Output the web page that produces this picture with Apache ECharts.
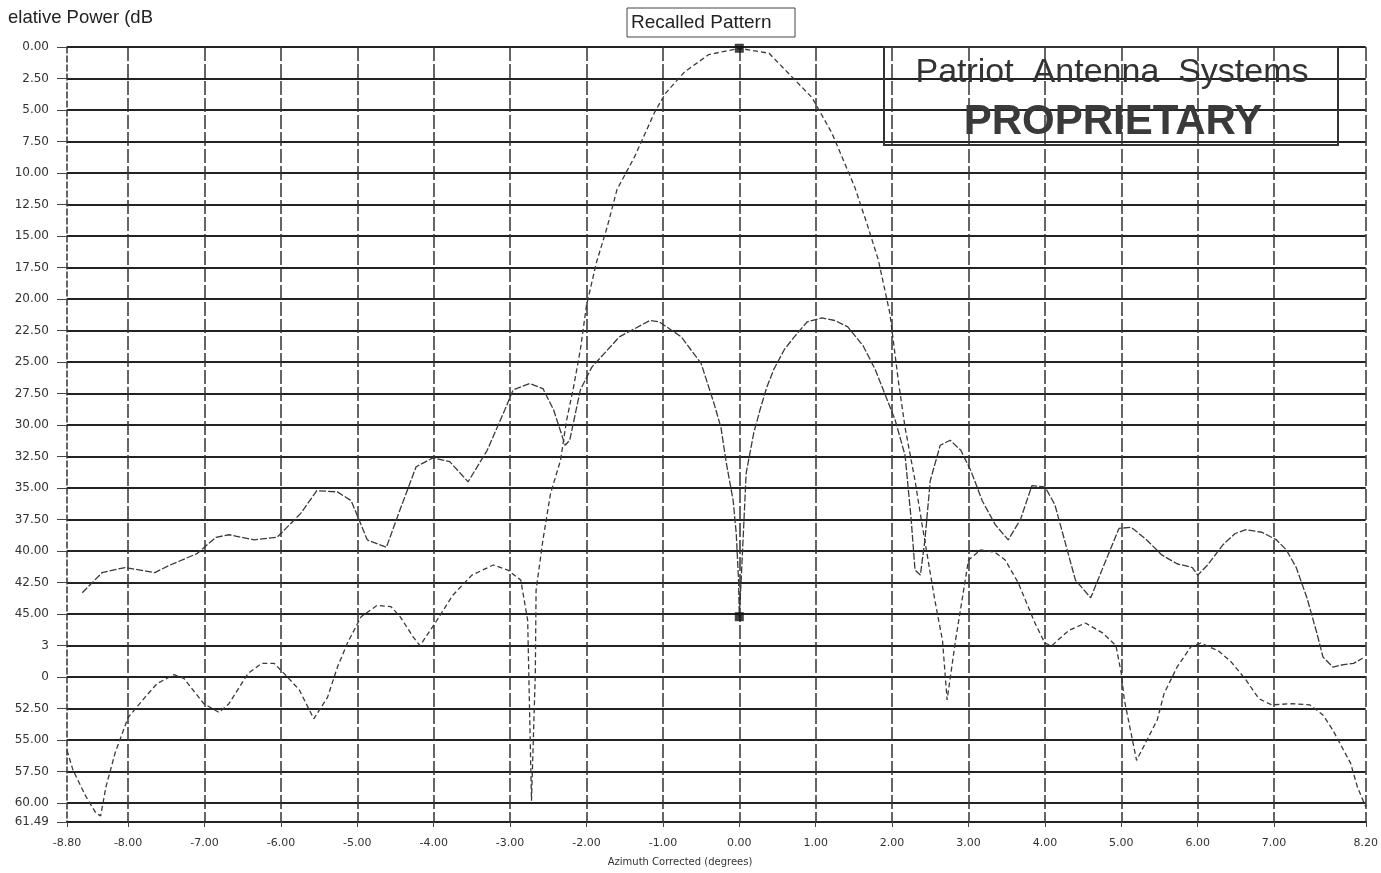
<!DOCTYPE html>
<html><head><meta charset="utf-8">
<script src="https://cdn.jsdelivr.net/npm/echarts@6/dist/echarts.min.js"></script>
<style>html,body{margin:0;padding:0;background:#fff}#c{width:1381px;height:873px}</style>
</head><body><div id="c"></div>
<script>
const xTickValues = [-8.8,-8,-7,-6,-5,-4,-3,-2,-1,0,1,2,3,4,5,6,7,8.2];
const xTickLabels = ['-8.80','-8.00','-7.00','-6.00','-5.00','-4.00','-3.00','-2.00','-1.00','0.00','1.00','2.00','3.00','4.00','5.00','6.00','7.00','8.20'];
const xGridValues = [-8,-7,-6,-5,-4,-3,-2,-1,0,1,2,3,4,5,6,7,8.2];
const yTickValues = [0,2.5,5,7.5,10,12.5,15,17.5,20,22.5,25,27.5,30,32.5,35,37.5,40,42.5,45,47.5,50,52.5,55,57.5,60,61.49];
const yTickLabels = ['0.00','2.50','5.00','7.50','10.00','12.50','15.00','17.50','20.00','22.50','25.00','27.50','30.00','32.50','35.00','37.50','40.00','42.50','45.00','3','0','52.50','55.00','57.50','60.00','61.49'];

const sumPattern = [[-8.80,55.8],[-8.72,57.4],[-8.55,59.5],[-8.42,60.8],[-8.36,61.0],[-8.29,58.7],[-8.17,56.0],[-8.00,53.2],[-7.78,51.6],[-7.62,50.5],[-7.40,49.8],[-7.27,50.1],[-7.01,52.1],[-6.81,52.8],[-6.68,52.1],[-6.43,49.7],[-6.25,48.9],[-6.09,48.9],[-5.96,49.7],[-5.76,51.0],[-5.57,53.3],[-5.39,51.6],[-5.26,49.2],[-5.13,47.3],[-4.95,45.2],[-4.74,44.3],[-4.56,44.4],[-4.44,45.2],[-4.27,46.8],[-4.18,47.5],[-3.97,45.6],[-3.75,43.5],[-3.50,41.9],[-3.22,41.1],[-3.03,41.5],[-2.86,42.3],[-2.77,45.5],[-2.72,59.8],[-2.67,49.7],[-2.66,43.1],[-2.57,39.1],[-2.47,35.4],[-2.34,32.8],[-2.26,29.6],[-2.17,27.0],[-2.08,24.0],[-2.00,20.5],[-1.87,17.1],[-1.73,14.3],[-1.60,11.3],[-1.37,8.7],[-1.11,5.2],[-0.97,3.7],[-0.72,2.0],[-0.40,0.6],[0,0.1],[0.39,0.5],[0.63,2.0],[0.95,4.0],[1.21,6.8],[1.51,11.1],[1.67,14.0],[1.82,16.9],[1.97,21.1],[2.08,26.4],[2.17,30.2],[2.30,34.4],[2.39,37.8],[2.56,43.9],[2.66,47.1],[2.72,51.8],[2.83,47.1],[3.00,40.7],[3.16,39.9],[3.35,40.1],[3.48,40.7],[3.65,42.5],[3.87,45.7],[4.00,47.3],[4.09,47.5],[4.31,46.3],[4.53,45.7],[4.76,46.5],[4.93,47.5],[5.00,49.7],[5.04,51.8],[5.20,56.6],[5.47,53.4],[5.56,51.3],[5.73,49.2],[5.91,47.6],[6.04,47.3],[6.27,47.9],[6.44,48.8],[6.63,50.2],[6.80,51.7],[6.97,52.2],[7.24,52.1],[7.47,52.2],[7.64,53.0],[7.77,54.2],[7.91,55.8],[8.00,56.8],[8.09,58.7],[8.20,60.3]];

const diffPattern = [[-8.60,43.3],[-8.34,41.7],[-8.04,41.3],[-7.65,41.7],[-7.45,41.1],[-7.10,40.2],[-6.85,38.9],[-6.68,38.7],[-6.35,39.1],[-6.05,38.9],[-5.74,37.0],[-5.53,35.2],[-5.26,35.3],[-5.08,36.0],[-4.87,39.1],[-4.62,39.7],[-4.44,36.7],[-4.23,33.3],[-4.01,32.6],[-3.79,32.9],[-3.55,34.5],[-3.30,32.0],[-3.07,28.8],[-2.96,27.2],[-2.74,26.7],[-2.57,27.1],[-2.43,28.8],[-2.28,31.6],[-2.22,31.2],[-2.08,27.2],[-1.93,25.4],[-1.57,23.0],[-1.17,21.7],[-1.05,21.8],[-0.76,23.0],[-0.50,25.1],[-0.33,28.3],[-0.24,30.2],[-0.17,33.0],[-0.08,36.0],[-0.04,38.6],[-0.01,42.3],[0,45.2],[0.03,41.6],[0.09,33.8],[0.19,30.6],[0.28,28.6],[0.36,27.0],[0.45,25.6],[0.59,24.0],[0.72,23.0],[0.89,21.8],[1.08,21.5],[1.25,21.7],[1.42,22.2],[1.62,23.7],[1.78,25.6],[1.91,27.6],[2.04,29.6],[2.17,32.4],[2.25,37.5],[2.30,41.5],[2.37,41.9],[2.43,39.1],[2.50,34.4],[2.63,31.6],[2.76,31.2],[2.90,32.0],[3.03,33.6],[3.18,36.0],[3.35,37.9],[3.52,39.1],[3.68,37.5],[3.83,34.8],[4.00,34.9],[4.13,36.3],[4.40,42.3],[4.60,43.7],[4.80,40.7],[4.97,38.2],[5.13,38.1],[5.33,39.1],[5.53,40.3],[5.73,41.0],[5.93,41.3],[6.00,41.9],[6.13,41.1],[6.33,39.5],[6.49,38.6],[6.63,38.3],[6.84,38.5],[7.03,39.1],[7.16,39.9],[7.29,41.3],[7.43,43.7],[7.56,46.5],[7.64,48.4],[7.77,49.2],[7.91,49.0],[8.04,48.9],[8.16,48.5]];

const cursorPoints = [[0,0.1],[0,45.2]];

function lookup(values, labels, v){
  const i = values.findIndex(t => Math.abs(t - v) < 1e-6);
  return i >= 0 ? labels[i] : '';
}

const chart = echarts.init(document.getElementById('c'), null, {renderer:'canvas'});
chart.setOption({
  animation:false,
  backgroundColor:'#ffffff',
  grid:{left:67, right:15, top:47, bottom:51},
  xAxis:{
    type:'value', min:-8.8, max:8.2,
    axisLine:{show:true, onZero:false, lineStyle:{color:'#222', width:2}},
    axisTick:{show:true, customValues:xTickValues, length:5, lineStyle:{color:'#444'}},
    axisLabel:{customValues:xTickValues, formatter:v=>lookup(xTickValues,xTickLabels,v), margin:16, fontSize:11, color:'#333', fontFamily:'DejaVu Sans'},
    splitLine:{show:false}
  },
  yAxis:{
    type:'value', inverse:true, min:0, max:61.49, interval:2.5,
    axisLine:{show:true, onZero:false, lineStyle:{color:'#333', width:1.5, type:[6,3]}},
    axisTick:{show:true, length:10, lineStyle:{color:'#444'}},
    axisLabel:{customValues:yTickValues, formatter:v=>lookup(yTickValues,yTickLabels,v), margin:18, fontSize:12, color:'#333', fontFamily:'DejaVu Sans'},
    splitLine:{show:true, lineStyle:{color:'#222', width:2}}
  },
  series:[
    {type:'line', name:'Sum', data:sumPattern, showSymbol:false, smooth:false,
     lineStyle:{color:'#3a3a3a', width:1.3, type:[5,3]},
     markLine:{silent:true, symbol:['none','none'], label:{show:false},
       lineStyle:{color:'#333', width:1.5, type:[14,3]},
       data:xGridValues.map(v=>({xAxis:v}))}},
    {type:'line', name:'Difference', data:diffPattern, showSymbol:false, smooth:false,
     lineStyle:{color:'#3a3a3a', width:1.3, type:[7,2]}},
    {type:'scatter', name:'Cursor', data:cursorPoints, symbol:'rect', symbolSize:9, itemStyle:{color:'#111'}, z:5}
  ],
  graphic:[
    {type:'text', left:8, top:8, style:{text:'elative Power (dB', font:'18.5px "Liberation Sans", Arial, sans-serif', fill:'#222'}},
    {type:'rect', shape:{x:627, y:8, width:168, height:29}, style:{fill:'#fff', stroke:'#444', lineWidth:1}},
    {type:'text', x:631, y:22.5, style:{text:'Recalled Pattern', font:'19px "Liberation Sans", Arial, sans-serif', fill:'#222', textVerticalAlign:'middle'}},
    {type:'rect', shape:{x:884, y:47, width:454, height:98}, style:{fill:'none', stroke:'#333', lineWidth:2}, z:10},
    {type:'text', x:1112, y:73, z:10, style:{text:'Patriot  Antenna  Systems', font:'34px "Liberation Sans", Arial, sans-serif', fill:'#333', textAlign:'center', textVerticalAlign:'middle'}},
    {type:'text', x:1113, y:122, z:10, style:{text:'PROPRIETARY', font:'bold 42px "Liberation Sans", Arial, sans-serif', fill:'#3a3a3a', textAlign:'center', textVerticalAlign:'middle'}},
    {type:'text', x:680, y:862, style:{text:'Azimuth Corrected (degrees)', font:'10px "DejaVu Sans", sans-serif', fill:'#333', textAlign:'center', textVerticalAlign:'middle'}}
  ]
});
</script>
</body></html>
